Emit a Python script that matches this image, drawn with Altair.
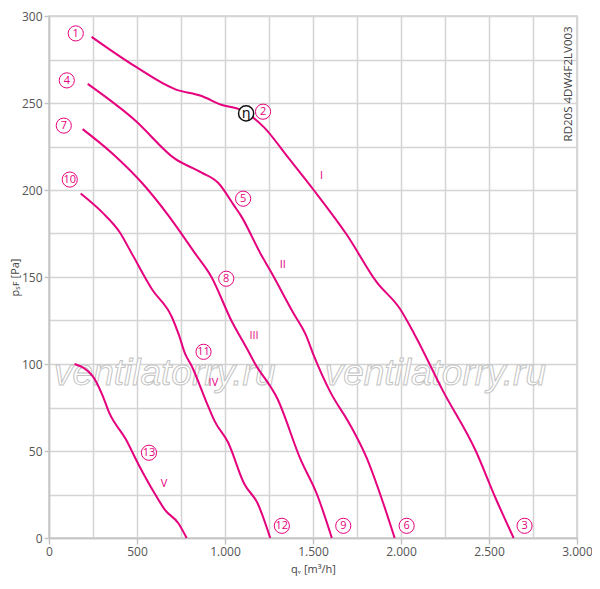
import altair as alt
import pandas as pd

# ---- data ----
curve_I_q = [242, 490, 715, 867, 979, 1092, 1222, 1356, 1504, 1694, 1862, 1992, 2077, 2236, 2425, 2537, 2640]
curve_I_p = [288, 271, 258, 254, 249, 246, 236, 219, 200, 174, 147, 132, 117, 85, 50, 23, 0]
curve_II_q = [220, 490, 715, 867, 962, 1052, 1092, 1204, 1261, 1390, 1458, 1504, 1598, 1711, 1805, 1889, 1964]
curve_II_p = [261, 240, 218, 210, 204, 191, 185, 163, 153, 129, 117, 105, 84, 65, 46, 23, 0]
curve_III_q = [191, 360, 529, 681, 827, 923, 1036, 1129, 1166, 1298, 1430, 1523, 1607]
curve_III_p = [235, 221, 204, 185, 164, 150, 125, 108, 101, 80, 45, 25, 0]
curve_IV_q = [180, 304, 400, 473, 585, 698, 737, 773, 810, 895, 942, 1017, 1110, 1185, 1257]
curve_IV_p = [198, 187, 176, 163, 143, 127, 117, 106, 99, 78, 67, 55, 31, 20, 0]
curve_V_q = [145, 248, 304, 342, 435, 510, 604, 660, 735, 782]
curve_V_p = [100, 93, 82, 72, 57, 42, 25, 16, 8.5, 0]

curve_names = ["I", "II", "III", "IV", "V"]
curve_qs = [curve_I_q, curve_II_q, curve_III_q, curve_IV_q, curve_V_q]
curve_ps = [curve_I_p, curve_II_p, curve_III_p, curve_IV_p, curve_V_p]

point_labels = ["1", "2", "3", "4", "5", "6", "7", "8", "9", "10", "11", "12", "13"]
point_q = [152, 1216, 2702, 101, 1103, 2032, 84, 1007, 1672, 118, 878, 1323, 568]
point_p = [290, 245, 7, 263, 195, 7, 237, 149, 7, 206, 107, 7, 49]

roman_labels = ["I", "II", "III", "IV", "V"]
roman_q = [1548, 1328, 1165, 934, 653]
roman_p = [208, 157, 116, 89, 31]

eta_label = ["η"]
eta_q = [1120]
eta_p = [244]

watermark_text = ["ventilatorry.ru", "ventilatorry.ru"]
watermark_q = [658, 2195]
watermark_p = [94, 94]

model_text = ["RD20S 4DW4F2LV003"]
model_q = [2955]
model_p = [261]

MAG = "#e5007d"

rows = []
for name, qs, ps in zip(curve_names, curve_qs, curve_ps):
    for i, (q, p) in enumerate(zip(qs, ps)):
        rows.append({"curve": name, "q": q, "p": p, "i": i})
curves_df = pd.DataFrame(rows)
points_df = pd.DataFrame({"label": point_labels, "q": point_q, "p": point_p})
roman_df = pd.DataFrame({"label": roman_labels, "q": roman_q, "p": roman_p})
eta_df = pd.DataFrame({"label": eta_label, "q": eta_q, "p": eta_p})
wm_df = pd.DataFrame({"label": watermark_text, "q": watermark_q, "p": watermark_p})
model_df = pd.DataFrame({"label": model_text, "q": model_q, "p": model_p})

xscale = alt.Scale(domain=[0, 3000], nice=False, zero=False)
yscale = alt.Scale(domain=[0, 300], nice=False, zero=False)

x_axis = alt.Axis(
    values=list(range(0, 3001, 250)),
    labelExpr="datum.value % 500 == 0 ? replace(format(datum.value, ','), ',', '.') : ''",
    tickOpacity={"condition": {"test": "datum.value % 500 == 0", "value": 1}, "value": 0},
    title="qᵥ [m³/h]",
    labelFlush=False,
    labelOverlap=False,
    titlePadding=6,
)
y_axis = alt.Axis(
    values=list(range(0, 301, 25)),
    labelExpr="datum.value % 50 == 0 ? datum.value : ''",
    tickOpacity={"condition": {"test": "datum.value % 50 == 0", "value": 1}, "value": 0},
    title="pₛꜰ [Pa]",
    labelFlush=False,
    labelOverlap=False,
    titlePadding=1,
    tickSize=5,
    labelPadding=2,
)

X = alt.X("q:Q", scale=xscale, axis=x_axis)
Y = alt.Y("p:Q", scale=yscale, axis=y_axis)

wm = alt.Chart(wm_df).mark_text(
    font="Liberation Sans", fontStyle="italic", fontSize=37, fill="#ffffff",
    stroke="#c4c4c4", strokeWidth=1, align="center", baseline="middle"
).encode(x=alt.X("q:Q", scale=xscale), y=alt.Y("p:Q", scale=yscale), text="label:N")

lines = alt.Chart(curves_df).mark_line(
    color=MAG, strokeWidth=2, interpolate="monotone"
).encode(x=X, y=Y, detail="curve:N", order="i:Q")

circles = alt.Chart(points_df).mark_point(
    shape="circle", size=230, filled=False, stroke=MAG, strokeWidth=1, fill="white", fillOpacity=1
).encode(x=alt.X("q:Q", scale=xscale), y=alt.Y("p:Q", scale=yscale))

circle_text = alt.Chart(points_df).mark_text(
    color=MAG, fontSize=11, font="Open Sans", align="center", baseline="middle", dy=0.5
).encode(x=alt.X("q:Q", scale=xscale), y=alt.Y("p:Q", scale=yscale), text="label:N")

eta_circle = alt.Chart(eta_df).mark_point(
    shape="circle", size=230, filled=False, stroke="#111111", strokeWidth=1.5, fill="white", fillOpacity=1
).encode(x=alt.X("q:Q", scale=xscale), y=alt.Y("p:Q", scale=yscale))

eta_text = alt.Chart(eta_df).mark_text(
    color="#111111", fontSize=14, font="DejaVu Sans", align="center", baseline="middle", dy=1
).encode(x=alt.X("q:Q", scale=xscale), y=alt.Y("p:Q", scale=yscale), text="label:N")

roman = alt.Chart(roman_df).mark_text(
    color=MAG, fontSize=11, font="Open Sans", align="center", baseline="middle"
).encode(x=alt.X("q:Q", scale=xscale), y=alt.Y("p:Q", scale=yscale), text="label:N")

model = alt.Chart(model_df).mark_text(
    color="#444444", fontSize=11.5, font="Open Sans", angle=270, align="center", baseline="middle"
).encode(x=alt.X("q:Q", scale=xscale), y=alt.Y("p:Q", scale=yscale), text="label:N")

chart = alt.layer(wm, lines, circles, circle_text, eta_circle, eta_text, roman, model).properties(
    width=528, height=522,
    autosize=alt.AutoSizeParams(type="none"),
    padding={"left": 41, "top": 8, "right": 15, "bottom": 45},
).configure_axis(
    gridColor="#d4d4d4", gridWidth=1.5,
    domainColor="#c4c4c4", domainWidth=1.5,
    tickColor="#c4c4c4", tickWidth=1.5, tickSize=6,
    labelColor="#555555", labelFont="Open Sans", labelFontSize=12,
    titleColor="#444444", titleFont="Open Sans", titleFontSize=11, titleFontWeight="normal",
).configure_view(stroke="#d0d0d0", strokeWidth=1.5)

chart.save("out.html", embed_options={"renderer": "svg", "actions": False})
